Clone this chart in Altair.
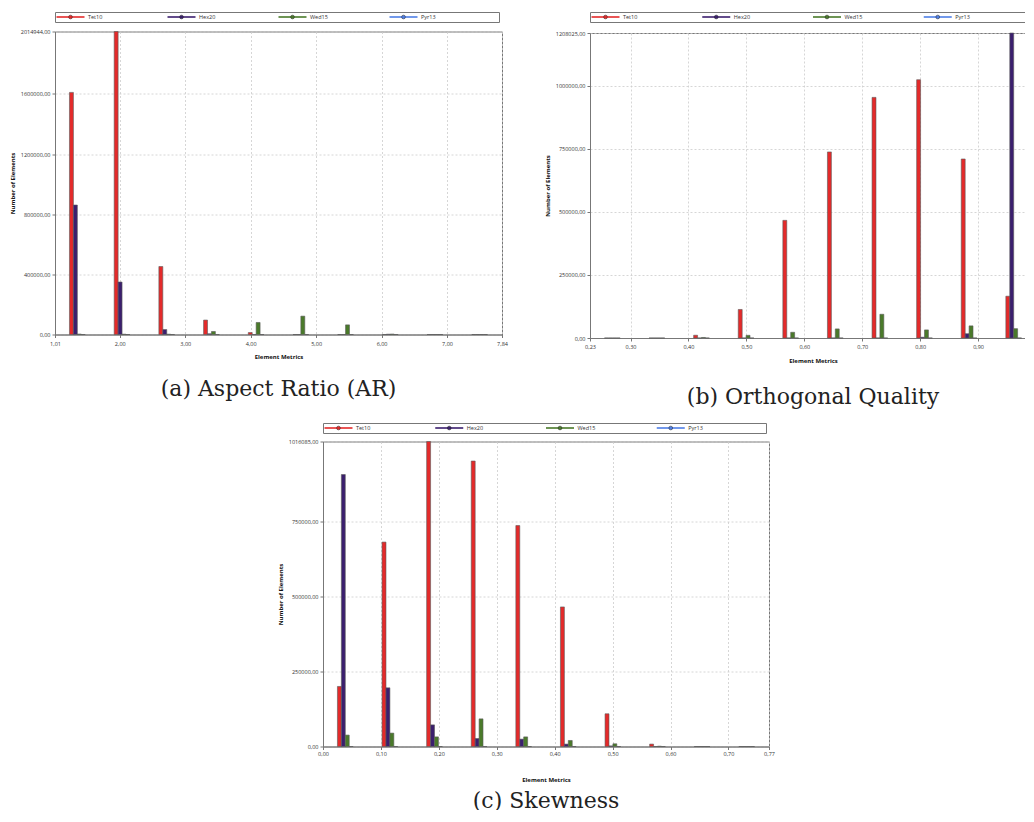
import altair as alt
import pandas as pd

SERIES = ["Tet10", "Hex20", "Wed15", "Pyr13"]
BAR_COLORS = ["#ff0000", "#2a0c5a", "#3a6414", "#3f6fd8"]
LEGEND_COLORS = ["#e42a2a", "#3b1f6e", "#4a7a2a", "#4f7fe6"]

# (a) Aspect Ratio
ar_range = [1.01, 7.84]
ar_tet10 = [1610000, 2014944, 452000, 96000, 13000, 0, 0, 0, 0, 0]
ar_hex20 = [861000, 349000, 33000, 5000, 0, 0, 0, 2000, 0, 0]
ar_wed15 = [3000, 2000, 2000, 20000, 80000, 122000, 64000, 3000, 0, 0]
ar_pyr13 = [0, 0, 0, 0, 0, 0, 0, 0, 0, 0]
ar_xticks = [1.01, 2, 3, 4, 5, 6, 7, 7.84]
ar_yticks = [0, 400000, 800000, 1200000, 1600000, 2014944]

# (b) Orthogonal Quality
oq_range = [0.23, 1.00]
oq_tet10 = [0, 0, 11000, 113000, 466000, 737000, 953000, 1023000, 709000, 165500]
oq_hex20 = [0, 0, 0, 0, 0, 0, 0, 3000, 17000, 1208025]
oq_wed15 = [0, 0, 2000, 10600, 22600, 36000, 94000, 32000, 48000, 37000]
oq_pyr13 = [0, 0, 0, 0, 0, 0, 0, 0, 0, 0]
oq_xticks = [0.23, 0.3, 0.4, 0.5, 0.6, 0.7, 0.8, 0.9, 1.0]
oq_yticks = [0, 250000, 500000, 750000, 1000000, 1208025]

# (c) Skewness
sk_range = [0.0, 0.77]
sk_tet10 = [200000, 681000, 1016085, 951000, 736000, 465000, 109000, 8000, 0, 0]
sk_hex20 = [906000, 195500, 72000, 26600, 24500, 8000, 2000, 0, 0, 0]
sk_wed15 = [38000, 44600, 32000, 92000, 32000, 20000, 9000, 1000, 0, 0]
sk_pyr13 = [0, 0, 0, 0, 0, 0, 0, 0, 0, 0]
sk_xticks = [0.0, 0.1, 0.2, 0.3, 0.4, 0.5, 0.6, 0.7, 0.77]
sk_yticks = [0, 250000, 500000, 750000, 1016085]

FMT = "replace(format(datum.value, '.2f'), '.', ',')"
LABEL_FONT = "Open Sans"
CAPTION_FONT = "DejaVu Serif"
BAR_FRAC = 0.088


def long_df(series_lists):
    rows = []
    for k, (name, vals) in enumerate(zip(SERIES, series_lists)):
        for b, v in enumerate(vals):
            rows.append({"series": name, "sidx": k, "bin": b, "value": v})
    return pd.DataFrame(rows)


def legend_chart(width):
    df = pd.DataFrame({"series": SERIES, "idx": list(range(len(SERIES)))})
    xs = alt.Scale(domain=[0, len(SERIES)], nice=False, zero=False)
    col = alt.Color("series:N", scale=alt.Scale(domain=SERIES, range=LEGEND_COLORS), legend=None)
    base = alt.Chart(df).encode(x=alt.X("idx:Q", scale=xs, axis=None))
    line = base.mark_rule(strokeWidth=1.6, xOffset=1.5, x2Offset=29.5).encode(
        x2="idx:Q", y=alt.value(5), color=col)
    dot = base.mark_point(filled=True, size=14, xOffset=15.5, opacity=1,
                          stroke="#222222", strokeWidth=0.5).encode(y=alt.value(5), color=col)
    txt = base.mark_text(align="left", baseline="middle", dx=33, fontSize=5.5,
                         font=LABEL_FONT, color="#333333").encode(
        y=alt.value(5), text="series:N")
    return alt.layer(line, dot, txt).properties(width=width, height=10)


def panel(series_lists, xr, xticks, yticks, caption, cap_offset, width, height,
          gap, xlab_pad, xtitle_pad):
    lo, hi = xr
    w = (hi - lo) / 10.0
    bw = BAR_FRAC * w
    df = long_df(series_lists)
    ymax = yticks[-1]
    bars = alt.Chart(df).transform_calculate(
        x0=f"{lo} + (datum.bin + 0.5) * {w} + (datum.sidx - 2) * {bw}",
    ).transform_calculate(
        x1=f"datum.x0 + {bw}"
    ).mark_bar(stroke="#5a5a5a", strokeWidth=0.6).encode(
        x=alt.X("x0:Q", scale=alt.Scale(domain=[lo, hi], nice=False, zero=False),
                axis=alt.Axis(values=xticks, labelExpr=FMT, title="Element Metrics",
                              labelFlush=False, labelPadding=xlab_pad,
                              titlePadding=xtitle_pad)),
        x2="x1:Q",
        y=alt.Y("value:Q", scale=alt.Scale(domain=[0, ymax], nice=False),
                axis=alt.Axis(values=yticks, labelExpr=FMT, title="Number of Elements",
                              titlePadding=5)),
        y2=alt.datum(0),
        color=alt.Color("series:N", scale=alt.Scale(domain=SERIES, range=BAR_COLORS), legend=None),
    ).properties(
        width=width, height=height,
        title=alt.TitleParams(caption, orient="bottom", anchor="middle", font=CAPTION_FONT,
                              fontSize=22, fontWeight="normal", color="#222222", offset=cap_offset),
    )
    return alt.vconcat(legend_chart(width - 3), bars, spacing=gap)


pa = panel([ar_tet10, ar_hex20, ar_wed15, ar_pyr13], ar_range, ar_xticks, ar_yticks,
           "(a) Aspect Ratio (AR)", 20, 447, 303, 5.5, 3.5, 6.5)
pb = panel([oq_tet10, oq_hex20, oq_wed15, oq_pyr13], oq_range, oq_xticks, oq_yticks,
           "(b) Orthogonal Quality", 23.5, 446, 305, 7, 3, 7.5)
pc = panel([sk_tet10, sk_hex20, sk_wed15, sk_pyr13], sk_range, sk_xticks, sk_yticks,
           "(c) Skewness", 8, 446, 305, 4.5, 1.5, 20)

spacer = alt.Chart(pd.DataFrame({"a": [0]})).mark_point(opacity=0).encode(
    x=alt.value(0), y=alt.value(0)
).properties(width=220, height=10, view=alt.ViewBackground(stroke="transparent"))

row1 = alt.hconcat(pa, pb, spacing=35)
row2 = alt.hconcat(spacer, pc, spacing=0)

chart = alt.vconcat(row1, row2, spacing=11).properties(
    padding={"left": 0, "top": 3, "right": -17, "bottom": -2}
).configure_view(stroke="#777777", strokeWidth=1).configure_axis(
    labelFont=LABEL_FONT, labelFontSize=5.5, labelColor="#333333", labelPadding=2,
    titleFont=LABEL_FONT, titleFontSize=6, titleFontWeight="bold", titleColor="#111111",
    domainColor="#777777", tickColor="#777777", tickSize=3,
    gridColor="#cccccc", gridDash=[2, 2], gridWidth=0.8,
).configure_concat(spacing=0)

chart.save("out.html", embed_options={"renderer": "svg", "actions": False})
